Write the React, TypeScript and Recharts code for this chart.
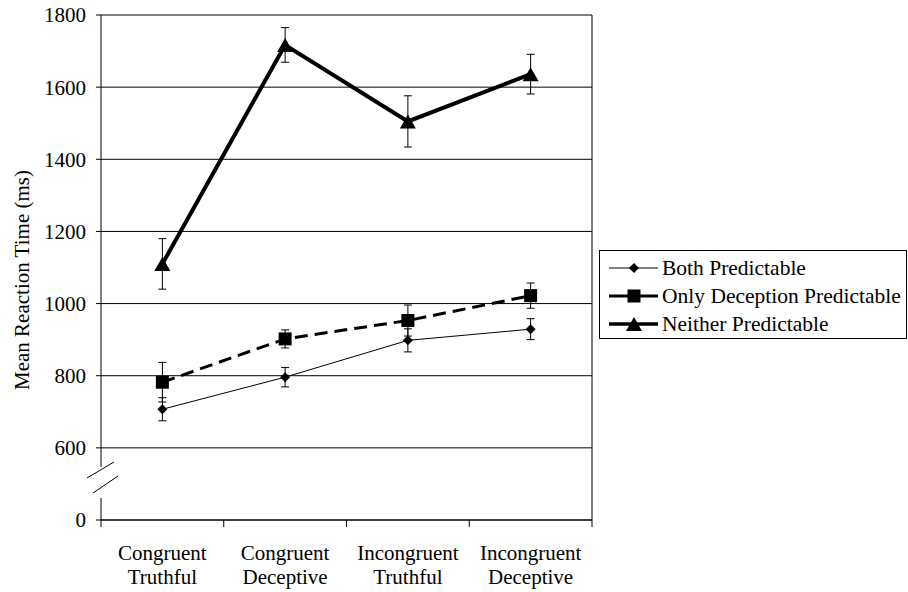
import React from "react";
import {
  LineChart,
  Line,
  XAxis,
  YAxis,
  CartesianGrid,
  ErrorBar,
  ReferenceLine,
} from "recharts";

// conditions on the x axis
const categories = [
  "Congruent Truthful",
  "Congruent Deceptive",
  "Incongruent Truthful",
  "Incongruent Deceptive",
];

// mean reaction times (ms) and error bar half-widths
const bothPredictable = [707, 796, 898, 929];
const bothPredictableErr = [32, 27, 32, 29];
const onlyDeception = [782, 902, 953, 1022];
const onlyDeceptionErr = [55, 25, 43, 35];
const neitherPredictable = [1110, 1717, 1505, 1636];
const neitherPredictableErr = [70, 48, 71, 55];

// y tick labels; "0" sits below the axis break
const yTickLabels = [0, 600, 800, 1000, 1200, 1400, 1600, 1800];
const BREAK_POS = 400;

const seriesNames = [
  "Both Predictable",
  "Only Deception Predictable",
  "Neither Predictable",
];

const data = categories.map((cat, i) => ({
  cat,
  pos: i + 0.5,
  both: bothPredictable[i],
  bothErr: bothPredictableErr[i],
  only: onlyDeception[i],
  onlyErr: onlyDeceptionErr[i],
  neither: neitherPredictable[i],
  neitherErr: neitherPredictableErr[i],
}));

const yTicks = yTickLabels.map((v) => (v === 0 ? BREAK_POS : v));
const xTicks = [0, 0.5, 1, 1.5, 2, 2.5, 3, 3.5, 4];

const FONT = "Liberation Serif";
const W = 908;
const H = 592;
const PLOT_TOP = 15;
const PLOT_BOTTOM = 520;
const PLOT_LEFT = 101;
const PLOT_RIGHT = 592;
const plotH = PLOT_BOTTOM - PLOT_TOP;
// axis break gap (pixels from plot top)
const gapStart = 467 - PLOT_TOP;
const gapEnd = 498 - PLOT_TOP;

const Diamond = ({ cx, cy, r = 5 }: any) => (
  <path d={`M${cx},${cy - r}L${cx + r},${cy}L${cx},${cy + r}L${cx - r},${cy}Z`} fill="#000" />
);
const Square = ({ cx, cy, r = 6.5 }: any) => (
  <rect x={cx - r} y={cy - r} width={r * 2} height={r * 2} fill="#000" />
);
const Triangle = ({ cx, cy, w = 16, h = 14 }: any) => (
  <path d={`M${cx},${cy - h / 2}L${cx + w / 2},${cy + h / 2}L${cx - w / 2},${cy + h / 2}Z`} fill="#000" />
);

const XTick = ({ x, y, payload }: any) => {
  const v = payload.value;
  if (Number.isInteger(v)) {
    return <line x1={x} y1={y} x2={x} y2={y + 7} stroke="#000" />;
  }
  const words = categories[Math.floor(v)].split(" ");
  return (
    <text x={x} y={y} textAnchor="middle" fontFamily={FONT} fontSize={21} fill="#000">
      <tspan x={x} dy={40}>{words[0]}</tspan>
      <tspan x={x} dy={24}>{words[1]}</tspan>
    </text>
  );
};

const legendRows = [
  { y: 268, width: 1, marker: (cx: number, cy: number) => <Diamond cx={cx} cy={cy} /> },
  { y: 296, width: 3, marker: (cx: number, cy: number) => <Square cx={cx} cy={cy} /> },
  { y: 324, width: 3.5, marker: (cx: number, cy: number) => <Triangle cx={cx} cy={cy} /> },
];

export default function App() {
  return (
    <div
      style={{
        position: "absolute",
        left: 0,
        top: 0,
        width: W,
        height: H,
        background: "#fff",
        fontFamily: FONT,
      }}
    >
      <LineChart
        width={W}
        height={H}
        data={data}
        margin={{ top: PLOT_TOP, right: W - PLOT_RIGHT, bottom: 0, left: 0 }}
        style={{ fontFamily: FONT }}
      >
        <CartesianGrid vertical={false} stroke="#000" />
        <XAxis
          type="number"
          dataKey="pos"
          domain={[0, 4]}
          ticks={xTicks}
          interval={0}
          tick={<XTick />}
          tickLine={false}
          tickSize={0}
          tickMargin={0}
          height={H - PLOT_BOTTOM}
          axisLine={{ stroke: "#000" }}
        />
        <YAxis
          type="number"
          domain={[BREAK_POS, 1800]}
          ticks={yTicks}
          interval={0}
          width={PLOT_LEFT}
          tickFormatter={(v: number) => (v === BREAK_POS ? "0" : String(v))}
          tick={{ fontFamily: FONT, fontSize: 21, fill: "#000" }}
          tickSize={5}
          tickMargin={10}
          tickLine={{ stroke: "#000" }}
          axisLine={{ stroke: "#000", strokeDasharray: `${gapStart} ${gapEnd - gapStart} ${plotH}` }}
        />
        <ReferenceLine x={4} stroke="#000" />
        <Line
          dataKey="both"
          stroke="#000"
          strokeWidth={1}
          isAnimationActive={false}
          dot={(p: any) => <Diamond key={`b${p.index}`} cx={p.cx} cy={p.cy} />}
        >
          <ErrorBar dataKey="bothErr" direction="y" width={4} stroke="#000" strokeWidth={1} />
        </Line>
        <Line
          dataKey="only"
          stroke="#000"
          strokeWidth={3}
          strokeDasharray="13 7"
          isAnimationActive={false}
          dot={(p: any) => <Square key={`o${p.index}`} cx={p.cx} cy={p.cy} />}
        >
          <ErrorBar dataKey="onlyErr" direction="y" width={4} stroke="#000" strokeWidth={1} />
        </Line>
        <Line
          dataKey="neither"
          stroke="#000"
          strokeWidth={4}
          isAnimationActive={false}
          dot={(p: any) => <Triangle key={`n${p.index}`} cx={p.cx} cy={p.cy} />}
        >
          <ErrorBar dataKey="neitherErr" direction="y" width={4} stroke="#000" strokeWidth={1} />
        </Line>
      </LineChart>
      <svg
        width={W}
        height={H}
        style={{ position: "absolute", left: 0, top: 0, pointerEvents: "none" }}
      >
        {/* axis break marks */}
        <line x1={87} y1={478} x2={114} y2={462} stroke="#000" />
        <line x1={93} y1={493} x2={118} y2={476} stroke="#000" />
        <text
          transform={`translate(22, 280) rotate(-90)`}
          textAnchor="middle"
          dominantBaseline="central"
          fontFamily={FONT}
          fontSize={21}
          fill="#000"
        >
          Mean Reaction Time (ms)
        </text>
        {/* legend */}
        <rect x={599.5} y={250.5} width={307} height={88} fill="#fff" stroke="#000" />
        {legendRows.map((r, i) => (
          <g key={i}>
            <line x1={609} y1={r.y} x2={658} y2={r.y} stroke="#000" strokeWidth={r.width} />
            {r.marker(634, r.y)}
            <text x={662} y={r.y} dominantBaseline="central" fontFamily={FONT} fontSize={21.5} fill="#000">
              {seriesNames[i]}
            </text>
          </g>
        ))}
      </svg>
    </div>
  );
}
